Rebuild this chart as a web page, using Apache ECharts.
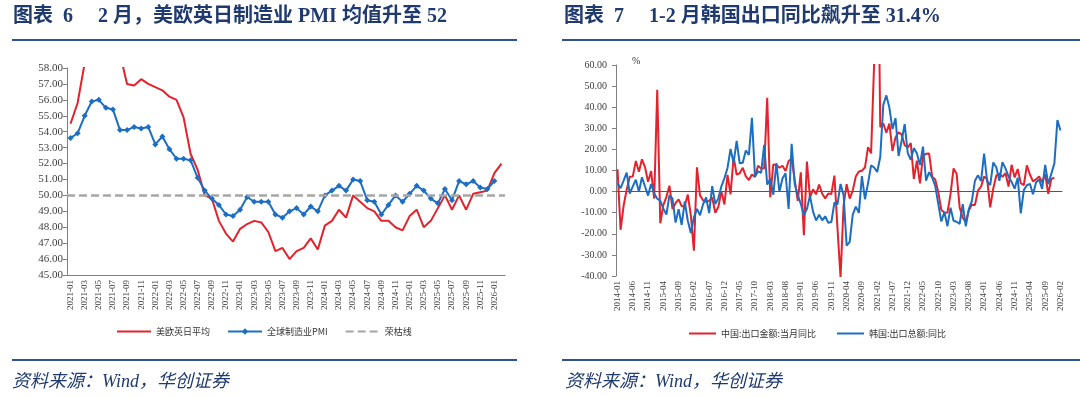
<!DOCTYPE html>
<html>
<head>
<meta charset="utf-8">
<script src="https://cdn.jsdelivr.net/npm/echarts@6/dist/echarts.min.js"></script>
<style>
html, body { margin: 0; padding: 0; background: #fff; }
#chart { width: 1080px; height: 398px; }
</style>
</head>
<body>
<div id="chart"></div>
<script>
// month labels like 2021-01
function monthRange(year, month, count) {
    let out = []
    for (let i = 0; i < count; i++) {
        let m = month - 1 + i
        let y = year + Math.floor(m / 12)
        let mm = (m % 12) + 1
        out.push(y + '-' + (mm < 10 ? '0' + mm : mm))
    }
    return out
}

// left chart: 2021-01 .. 2026-02
let pmiMonths = monthRange(2021, 1, 62)
let pmiG4Avg = [
    54.5, 55.8, 58.3, 59.5, 61.0, 60.5, 59.9, 58.9, 57.0, 56.9, 57.3, 57.0,
    56.8, 56.6, 56.2, 56.0, 54.9, 52.6, 51.6, 50.0, 49.8, 48.4, 47.6, 47.1,
    47.9, 48.2, 48.4, 48.3, 47.7, 46.5, 46.7, 46.0, 46.5, 46.7, 47.3, 46.6,
    48.1, 48.4, 49.1, 48.6, 50.0, 49.6, 49.2, 49.0, 48.4, 48.4, 48.0, 47.8,
    48.7, 49.1, 48.0, 48.4, 49.2, 50.0, 49.1, 50.0, 49.1, 50.1, 50.2, 50.3,
    51.4, 52.0
]
let pmiGlobal = [
    53.6, 53.9, 55.0, 55.9, 56.0, 55.5, 55.4, 54.1, 54.1, 54.3, 54.2, 54.3,
    53.2, 53.7, 52.9, 52.3, 52.3, 52.2, 51.1, 50.3, 49.8, 49.4, 48.8, 48.7,
    49.1, 49.9, 49.6, 49.6, 49.6, 48.8, 48.6, 49.0, 49.2, 48.8, 49.3, 49.0,
    50.0, 50.3, 50.6, 50.3, 51.0, 50.9, 49.7, 49.6, 48.8, 49.4, 50.0, 49.6,
    50.1, 50.6, 50.3, 49.8, 49.5, 50.4, 49.7, 50.9, 50.7, 50.9, 50.5, 50.4,
    50.9, null
]
let boomBust = 50

// right chart: 2014-01 .. 2026-02
let expMonths = monthRange(2014, 1, 146)
let chinaExp = [
    10.6, -18.1, -6.6, 0.9, 7.0, 7.2, 14.5, 9.4, 15.3, 11.6, 4.7, 9.7,
    -3.3, 48.3, -15.0, -6.4, -2.5, 2.8, -8.3, -5.5, -3.7, -6.9, -6.8, -1.4,
    -11.2, -28.0, 11.5, -1.8, -4.1, -4.8, -4.4, -2.8, -10.0, -7.3, 0.1, -6.1,
    7.9, -1.3, 16.4, 8.0, 8.7, 11.3, 7.2, 5.5, 8.1, 6.9, 12.3, 10.9,
    11.1, 44.5, -2.7, 12.9, 12.6, 11.3, 12.2, 9.8, 14.5, 15.6, 5.4, -4.4,
    9.1, -20.7, 14.2, -2.7, 1.1, -1.3, 3.3, -1.0, -3.2, -0.9, -1.1, 7.6,
    -17.2, -40.6, -6.6, 3.5, -3.3, 0.5, 7.2, 9.5, 9.9, 11.4, 21.1, 18.1,
    60.6, 154.9, 30.6, 32.3, 27.9, 32.2, 19.3, 25.6, 28.1, 27.1, 22.0, 20.9,
    23.0, 6.0, 14.7, 3.9, 16.9, 17.9, 18.0, 7.1, 5.7, -0.3, -8.7, -9.9,
    -10.0, -1.3, 11.0, 8.5, -7.5, -12.4, -14.5, -8.8, -6.2, -6.4, 0.5, 2.3,
    7.1, 6.0, -7.5, 1.5, 7.6, 8.6, 7.0, 8.7, 2.4, 12.7, 6.7, 10.7,
    4.0, 3.0, 12.4, 8.1, 4.8, 5.8, 7.2, 4.4, 8.3, -1.1, 5.9, 6.6
]
let koreaExp = [
    4.0, 1.6, 5.2, 9.0, -0.9, 2.5, 5.6, -0.1, 6.8, 2.4, -1.9, 3.6,
    -0.9, -3.4, -4.3, -8.1, -10.9, -1.8, -3.3, -14.7, -8.3, -15.8, -4.7, -13.8,
    -19.6, -12.2, -8.2, -11.2, -6.0, -2.7, -10.2, 2.6, -5.9, -3.2, 2.5, 6.4,
    11.2, 20.2, 13.7, 24.0, 13.4, 13.7, 19.5, 17.4, 35.0, 7.1, 9.6, 8.9,
    22.2, 3.3, 6.0, -1.5, 13.5, -0.1, 6.2, 8.7, -8.2, 22.7, 3.6, -1.7,
    -5.8, -11.3, -8.2, -2.0, -9.5, -13.7, -11.0, -13.6, -11.7, -14.8, -14.4, -5.2,
    -6.1, 3.6, -1.6, -25.6, -23.8, -10.9, -7.1, -10.1, 7.3, -3.6, 3.9, 12.4,
    11.4, 9.3, 16.4, 41.1, 45.6, 39.7, 29.6, 34.8, 16.9, 24.0, 32.0, 18.3,
    15.1, 20.6, 18.2, 12.6, 21.3, 5.2, 9.2, 6.6, 2.7, -5.8, -14.2, -9.7,
    -16.4, -7.6, -13.8, -14.3, -15.3, -6.0, -16.4, -8.3, -4.4, 5.1, 7.7, 5.0,
    18.0, 4.8, 3.1, 13.8, 11.5, 5.1, 13.9, 11.0, 7.1, 4.6, 1.4, 6.6,
    -10.3, 0.7, 3.0, 3.7, -1.3, 4.3, 5.8, 1.3, 12.7, 3.5, 8.4, 13.4,
    33.9, 29.0
]

let red = '#e3222b'
let blue = '#1c6ec2'
let gray = '#a6a6a6'
let navy = '#1f3a6e'
let ruleColor = '#2e5395'
let axisColor = '#808080'
let serif = '"Liberation Serif", "Noto Sans CJK SC", serif'
let cjk = '"Noto Sans CJK SC", sans-serif'

let titleStyle = { fontFamily: serif, fontSize: 20, fontWeight: 'bold', color: navy }
let sourceStyle = { fontFamily: serif, fontSize: 18, fontStyle: 'italic', fontWeight: 'normal', color: navy }
let tickLabel = { fontFamily: serif, color: '#404040' }
// legend items without a symbol in the middle
let noDot = { opacity: 0 }

var chart = echarts.init(document.getElementById('chart'))
chart.setOption({
    animation: false,
    title: [
        { text: '图表  6     2 月，美欧英日制造业 PMI 均值升至 52', left: 13, top: 7, padding: 0, textStyle: titleStyle },
        { text: '图表  7     1-2 月韩国出口同比飙升至 31.4%', left: 564, top: 7, padding: 0, textStyle: titleStyle },
        { text: '资料来源：Wind，华创证券', left: 12, top: 373, padding: 0, textStyle: sourceStyle },
        { text: '资料来源：Wind，华创证券', left: 565, top: 373, padding: 0, textStyle: sourceStyle }
    ],
    graphic: [
        { type: 'line', shape: { x1: 12, y1: 40, x2: 517, y2: 40 }, style: { stroke: ruleColor, lineWidth: 2 } },
        { type: 'line', shape: { x1: 562, y1: 40, x2: 1080, y2: 40 }, style: { stroke: ruleColor, lineWidth: 2 } },
        { type: 'line', shape: { x1: 12, y1: 360, x2: 517, y2: 360 }, style: { stroke: ruleColor, lineWidth: 2 } },
        { type: 'line', shape: { x1: 562, y1: 360, x2: 1080, y2: 360 }, style: { stroke: ruleColor, lineWidth: 2 } },
        { type: 'text', left: 632, top: 56, style: { text: '%', font: '10px "Liberation Serif"', fill: '#333' } }
    ],
    legend: [
        {
            data: [
                { name: '美欧英日平均', itemStyle: noDot },
                { name: '全球制造业PMI' },
                { name: '荣枯线', itemStyle: noDot }
            ],
            left: 116, top: 327, padding: 0, itemWidth: 34, itemHeight: 8, itemGap: 17,
            textStyle: { fontFamily: cjk, fontSize: 9, color: '#333' }
        },
        {
            data: [
                { name: '中国:出口金额:当月同比', itemStyle: noDot },
                { name: '韩国:出口总额:同比', itemStyle: noDot }
            ],
            left: 688, top: 329, padding: 0, itemWidth: 27, itemHeight: 8, itemGap: 20,
            textStyle: { fontFamily: cjk, fontSize: 9, color: '#333' }
        }
    ],
    grid: [
        { left: 67, top: 68, width: 438, height: 207 },
        { left: 616, top: 65, width: 446, height: 211 }
    ],
    xAxis: [
        {
            gridIndex: 0, type: 'category', data: pmiMonths, boundaryGap: true,
            axisLine: { lineStyle: { color: axisColor } },
            axisTick: { interval: 1, alignWithLabel: true, length: 4, lineStyle: { color: axisColor } },
            axisLabel: Object.assign({ interval: 1, rotate: 90, fontSize: 9, margin: 5 }, tickLabel)
        },
        {
            gridIndex: 1, type: 'category', data: expMonths, boundaryGap: true, position: 'bottom',
            axisLine: { onZero: true, lineStyle: { color: '#555' } },
            axisTick: { interval: 4, alignWithLabel: true, length: 4, lineStyle: { color: '#555' } },
            axisLabel: { show: false }
        },
        {
            gridIndex: 1, type: 'category', data: expMonths, boundaryGap: true, position: 'bottom',
            axisLine: { show: false, onZero: false },
            axisTick: { show: false },
            axisLabel: Object.assign({ interval: 4, rotate: 90, fontSize: 9, margin: 5 }, tickLabel)
        }
    ],
    yAxis: [
        {
            gridIndex: 0, type: 'value', min: 45, max: 58, interval: 1,
            axisLine: { show: true, lineStyle: { color: axisColor } },
            axisTick: { show: true, length: 4, lineStyle: { color: axisColor } },
            splitLine: { show: false },
            axisLabel: Object.assign({ fontSize: 11, margin: 4, formatter: v => v.toFixed(2) }, tickLabel)
        },
        {
            gridIndex: 1, type: 'value', min: -40, max: 60, interval: 10,
            axisLine: { show: true, lineStyle: { color: axisColor } },
            axisTick: { show: true, length: 4, lineStyle: { color: axisColor } },
            splitLine: { show: false },
            axisLabel: Object.assign({ fontSize: 10, margin: 9, formatter: v => v.toFixed(2) }, tickLabel)
        }
    ],
    series: [
        {
            name: '美欧英日平均', type: 'line', xAxisIndex: 0, yAxisIndex: 0,
            data: pmiG4Avg, symbol: 'none',
            lineStyle: { color: red, width: 2 }, itemStyle: { color: red }
        },
        {
            name: '全球制造业PMI', type: 'line', xAxisIndex: 0, yAxisIndex: 0,
            data: pmiGlobal, symbol: 'diamond', symbolSize: 6, showAllSymbol: true,
            lineStyle: { color: blue, width: 2 }, itemStyle: { color: blue }
        },
        {
            name: '荣枯线', type: 'line', xAxisIndex: 0, yAxisIndex: 0,
            data: [], symbol: 'none',
            lineStyle: { color: gray, width: 2.5, type: [8, 4] }, itemStyle: { color: gray },
            markLine: {
                silent: true, symbol: 'none', label: { show: false },
                lineStyle: { color: gray, width: 2.5, type: [8, 4] },
                data: [{ yAxis: boomBust }]
            }
        },
        {
            name: '中国:出口金额:当月同比', type: 'line', xAxisIndex: 1, yAxisIndex: 1,
            data: chinaExp, symbol: 'none',
            lineStyle: { color: red, width: 2 }, itemStyle: { color: red }
        },
        {
            name: '韩国:出口总额:同比', type: 'line', xAxisIndex: 1, yAxisIndex: 1,
            data: koreaExp, symbol: 'none',
            lineStyle: { color: blue, width: 2 }, itemStyle: { color: blue }
        }
    ]
})
</script>
</body>
</html>
